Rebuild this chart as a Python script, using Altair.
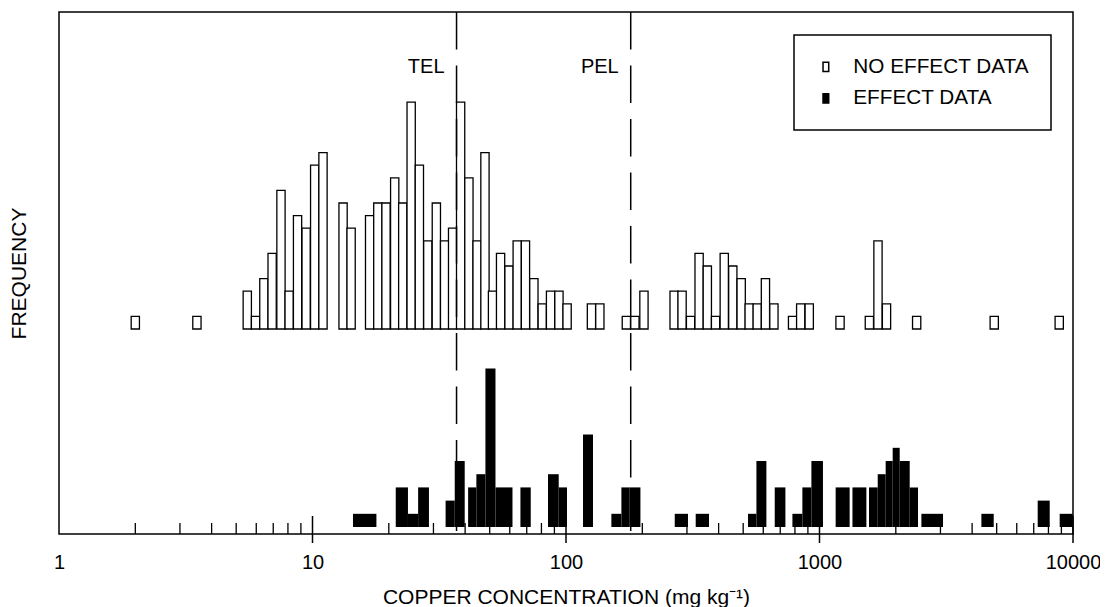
import altair as alt
import pandas as pd

# ---------------- data ----------------
# NO EFFECT DATA: bar centre concentration (mg/kg) and frequency
ne_conc = [2.0, 3.5, 5.53, 5.96, 6.43, 6.93, 7.51, 8.09, 8.73, 9.44, 10.2, 11.0,
           13.2, 14.2, 16.8, 18.1, 19.5, 21.1, 22.7, 24.5, 26.4, 28.5, 30.8, 33.2,
           35.7, 38.4, 41.4, 44.6, 47.9, 51.3, 55.2, 59.6, 64.2, 69.2, 74.7, 80.6,
           86.9, 93.8, 101, 126, 136, 173, 187, 203, 267, 287, 310, 335, 361, 389,
           421, 455, 491, 528, 568, 612, 661, 783, 843, 911, 1205, 1573, 1701, 1838,
           2417, 4890, 8824]
ne_freq = [1, 1, 3, 1, 4, 6, 11, 3, 9, 8, 13, 14,
           10, 8, 9, 10, 10, 12, 10, 18, 13, 7, 10, 7,
           8, 18, 12, 7, 14, 3, 6, 5, 7, 7, 4, 2,
           3, 3, 2, 2, 2, 1, 1, 3, 3, 3, 1, 6, 5, 1,
           6, 5, 4, 2, 2, 4, 2, 1, 2, 2, 1, 1, 7, 2,
           1, 1, 1]

# EFFECT DATA: concentration ranges (mg/kg) and frequency
eff_lo = [14.45, 21.3, 23.8, 26.1, 33.5, 36.4, 41.1, 44.3, 48.1, 52.7, 66.1, 84.9,
          93.6, 116.7, 151, 165.4, 178.4, 268.5, 324.8, 522.4, 563.8, 665.9, 781.9,
          855.9, 929, 1158, 1349, 1568, 1697, 1824, 1944, 2072, 2269, 2523, 4351,
          7256, 8861]
eff_hi = [17.87, 23.8, 26.1, 28.8, 36.4, 39.85, 44.3, 48.1, 52.7, 61.5, 72.6, 93.6,
          100.9, 127.8, 165.4, 178.4, 196.6, 302.9, 366.6, 563.8, 617.3, 733.7, 855.9,
          929, 1032, 1315, 1531, 1697, 1824, 1944, 2072, 2269, 2447, 3070, 4867,
          8094, 9972]
eff_freq = [1, 3, 1, 3, 2, 5, 3, 4, 12, 3, 3, 4,
            3, 7, 1, 3, 3, 1, 1, 1, 5, 3, 1,
            3, 5, 3, 3, 3, 4, 5, 6, 5, 3, 1, 1,
            2, 1]

guide_names = ["TEL", "PEL"]
guide_conc = [37.0, 180.0]

major_ticks = [10, 100, 1000, 10000]
minor_ticks = [m * d for d in [1, 10, 100, 1000] for m in range(2, 10)]
label_values = [1, 10, 100, 1000, 10000]

series_names = ["NO EFFECT DATA", "EFFECT DATA"]

# ---------------- tables ----------------
ne_df = pd.DataFrame({"conc": ne_conc, "freq": ne_freq, "base": 0,
                      "series": series_names[0]})
eff_df = pd.DataFrame({"lo": eff_lo, "hi": eff_hi, "freq": eff_freq, "base": 0,
                       "series": series_names[1]})
guide_df = pd.DataFrame({"name": guide_names, "conc": guide_conc})
major_df = pd.DataFrame({"v": major_ticks})
minor_df = pd.DataFrame({"v": minor_ticks})

W, H = 1014, 522
FONT = "Liberation Sans"
half = 0.01628  # half bar width in log10 units

xscale = alt.Scale(type="log", domain=[1, 10000], nice=False)
fill_scale = alt.Scale(domain=series_names, range=["white", "black"])

legend = alt.Legend(
    title=None, orient="none", legendX=735, legendY=23,
    strokeColor="black", fillColor="white", padding=21.5,
    labelFontSize=20.75, labelFont=FONT, labelColor="black", labelLimit=400,
    symbolType="M-0.6,-1H0.6V1H-0.6Z", symbolSize=90,
    symbolStrokeColor="black", symbolStrokeWidth=1.5,
    symbolOffset=0, labelOffset=17, rowPadding=9.5,
)

x_axis = alt.Axis(
    values=label_values, format="d", ticks=False, tickSize=0, domain=False,
    grid=False, labelFontSize=20, labelFont=FONT, labelColor="black",
    labelPadding=34, labelBaseline="alphabetic", labelFlush=False,
    labelOverlap=False,
    title="COPPER CONCENTRATION (mg kg⁻¹)", titleFontSize=21, titleFont=FONT,
    titleFontWeight="normal", titleColor="black", titleY=69,
    titleBaseline="alphabetic",
)

upper = alt.Chart(ne_df).transform_calculate(
    lo=f"datum.conc * pow(10, -{half})",
    hi=f"datum.conc * pow(10, {half})",
).mark_rect(stroke="black", strokeWidth=1.3).encode(
    x=alt.X("lo:Q", scale=xscale, axis=x_axis),
    x2="hi:Q",
    y=alt.Y("freq:Q",
            scale=alt.Scale(domain=[-16.27, 25.16], nice=False, zero=False),
            axis=alt.Axis(title="FREQUENCY", ticks=False, labels=False,
                          domain=False, grid=False, titleFontSize=21,
                          titleFont=FONT, titleFontWeight="normal",
                          titleColor="black", titlePadding=29.5)),
    y2="base:Q",
    fill=alt.Fill("series:N", scale=fill_scale, legend=legend),
)

lower = alt.Chart(eff_df).mark_rect().encode(
    x=alt.X("lo:Q", scale=xscale, axis=x_axis),
    x2="hi:Q",
    y=alt.Y("freq:Q",
            scale=alt.Scale(domain=[-0.53, 39.02], nice=False, zero=False),
            axis=None),
    y2="base:Q",
    fill=alt.Fill("series:N", scale=fill_scale, legend=legend),
)

minor = alt.Chart(minor_df).mark_rule(color="black", strokeWidth=1.3).encode(
    x=alt.X("v:Q", scale=xscale, axis=x_axis),
    y=alt.value(H - 11), y2=alt.value(H),
)
major = alt.Chart(major_df).mark_rule(color="black", strokeWidth=1.5).encode(
    x=alt.X("v:Q", scale=xscale, axis=x_axis),
    y=alt.value(H - 18), y2=alt.value(H + 9),
)

guides = alt.Chart(guide_df).mark_rule(
    color="black", strokeWidth=1.5, strokeDash=[37.5, 16]
).encode(
    x=alt.X("conc:Q", scale=xscale, axis=x_axis),
    y=alt.value(0), y2=alt.value(H),
)
guide_text = alt.Chart(guide_df).mark_text(
    align="right", baseline="alphabetic", dx=-12, fontSize=20, font=FONT,
    color="black",
).encode(
    x=alt.X("conc:Q", scale=xscale, axis=x_axis),
    y=alt.value(61),
    text="name:N",
)

chart = alt.layer(
    upper, lower, minor, major, guides, guide_text
).resolve_scale(y="independent").properties(
    width=W, height=H,
    autosize=alt.AutoSizeParams(type="none"),
    padding={"left": 51, "top": 4, "right": 27, "bottom": 80},
).configure(font=FONT).configure_view(
    stroke="black", strokeWidth=1.5
).configure_legend(strokeWidth=1.5)

chart.save("out.html", embed_options={"renderer": "svg", "actions": False})
